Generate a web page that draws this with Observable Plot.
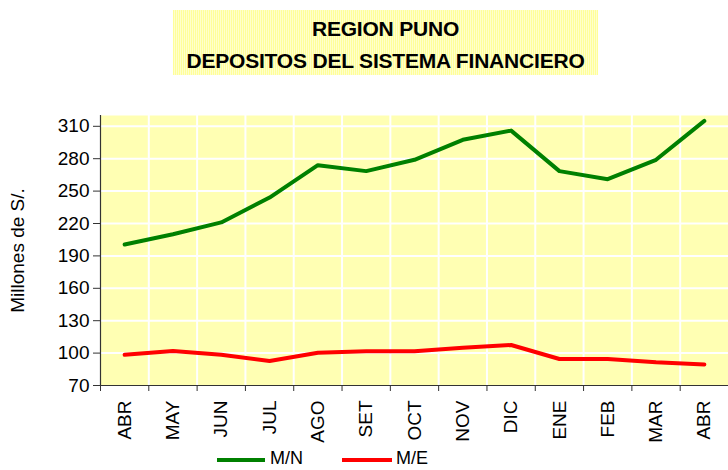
<!DOCTYPE html>
<html>
<head>
<meta charset="utf-8">
<script src="https://cdn.jsdelivr.net/npm/d3@7"></script>
<script src="https://cdn.jsdelivr.net/npm/@observablehq/plot@0.6"></script>
<style>
  html, body { margin: 0; padding: 0; background: #fff; width: 728px; height: 470px; overflow: hidden; font-family: Arial, "Liberation Sans", sans-serif; }
  #title { position: absolute; left: 173px; top: 10px; width: 425px; height: 65px;
    background: repeating-linear-gradient(90deg, #ffff99 0px, #ffff99 1px, #ffffcc 1px, #ffffcc 2px);
    text-align: center; font-weight: bold; font-size: 21px; line-height: 32px; padding-top: 3px; box-sizing: border-box; color: #000; letter-spacing: -0.2px; white-space: nowrap; }
  #chart { position: absolute; left: 0; top: 100px; }
  .legline { position: absolute; height: 4px; }
  .legtext { position: absolute; font-size: 18px; color: #000; line-height: 20px; }
</style>
</head>
<body>
<div id="title">REGION PUNO<br>DEPOSITOS DEL SISTEMA FINANCIERO</div>
<div id="chart"></div>
<div class="legline" style="left:217px; top:458px; width:48px; background:#008000;"></div>
<div class="legtext" style="left:270px; top:448px;">M/N</div>
<div class="legline" style="left:342px; top:458px; width:50px; background:#ff0000;"></div>
<div class="legtext" style="left:396px; top:448px;">M/E</div>
<script>
const months = ["ABR","MAY","JUN","JUL","AGO","SET","OCT","NOV","DIC","ENE","FEB","MAR","ABR"];
const mn = [200.5, 210, 221, 244, 274, 268.5, 279, 297.5, 306, 268.5, 261, 279, 315];
const me = [98.5, 102, 98.5, 92.6, 100.4, 101.6, 101.8, 105, 107.5, 94.5, 94.5, 91.5, 89.5];
const yTicks = [70, 100, 130, 160, 190, 220, 250, 280, 310];

const idx = months.map((_, i) => i);
const rowsMN = idx.map(i => ({i, v: mn[i]}));
const rowsME = idx.map(i => ({i, v: me[i]}));
const bounds = d3.range(-0.5, months.length, 1);
const inner = bounds.filter(b => b > -0.5 && b < months.length - 0.5);

const chart = Plot.plot({
  width: 728,
  height: 355,
  marginLeft: 100,
  marginRight: 0,
  marginTop: 15,
  marginBottom: 70,
  style: {fontFamily: "Arial, 'Liberation Sans', sans-serif", fontSize: "19px", color: "#000", background: "transparent"},
  x: {type: "linear", domain: [-0.5, months.length - 0.5]},
  y: {domain: [70, 320]},
  marks: [
    Plot.frame({fill: "#fffff1", stroke: null}),
    Plot.gridY(yTicks.slice(1), {stroke: "#fff", strokeOpacity: 1, strokeWidth: 2}),
    Plot.ruleX(inner, {stroke: "#fff", strokeWidth: 2}),
    Plot.axisY({ticks: yTicks, tickSize: 7, tickPadding: 4, fontSize: 19, stroke: "#333",
      label: "Millones de S/.", labelAnchor: "center", labelArrow: "none", labelOffset: 90}),
    Plot.axisX({ticks: bounds, tickSize: 6, tickFormat: () => "", stroke: "#333", label: null}),
    Plot.axisX({ticks: idx, tickSize: 0, tickRotate: -90, tickPadding: 15, fontSize: 19,
      tickFormat: i => months[i], label: null}),
    Plot.ruleX([-0.5], {stroke: "#333", strokeWidth: 1.2}),
    Plot.ruleY([70], {stroke: "#333", strokeWidth: 1.2}),
    Plot.line(rowsME, {x: "i", y: "v", stroke: "#ff0000", strokeWidth: 4}),
    Plot.line(rowsMN, {x: "i", y: "v", stroke: "#008000", strokeWidth: 4})
  ]
});

const svg = d3.select(chart);
const defs = svg.insert("defs", ":first-child");
const pat = defs.append("pattern").attr("id", "stripes").attr("width", 2).attr("height", 10)
  .attr("patternUnits", "userSpaceOnUse");
pat.append("rect").attr("width", 2).attr("height", 10).attr("fill", "#ffffcc");
pat.append("rect").attr("width", 1).attr("height", 10).attr("fill", "#ffff99");
svg.selectAll('[fill="#fffff1"]').attr("fill", "url(#stripes)");

document.getElementById("chart").appendChild(chart);
</script>
</body>
</html>
